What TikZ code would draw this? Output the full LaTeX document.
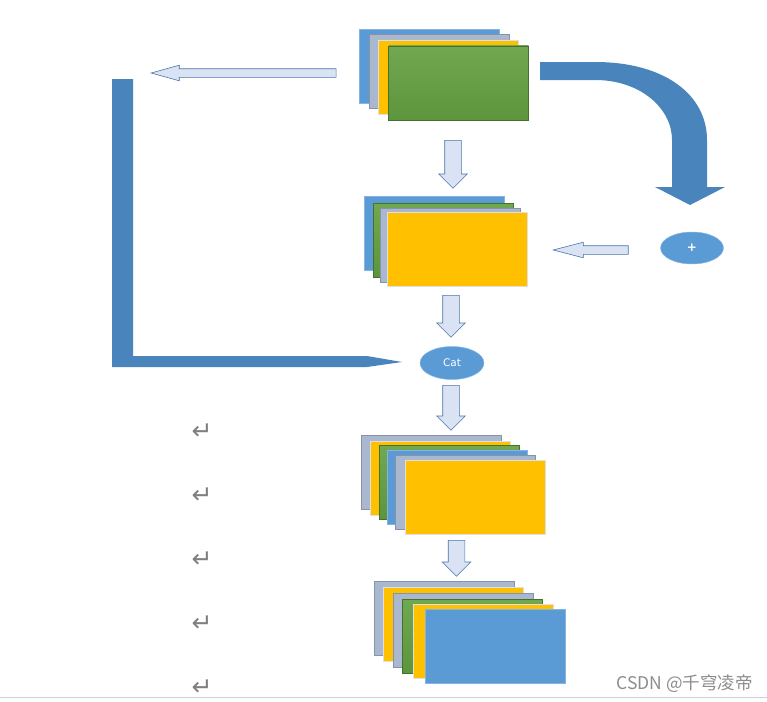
\documentclass[tikz,border=0pt]{standalone}
\usepackage{fontspec}
\usepackage{xcolor}
\usepackage{tikz}
\usetikzlibrary{shapes.geometric,shapes.arrows}
\newfontfamily\symfont{DejaVu Sans}
\newfontfamily\cjkfont{Noto Sans CJK SC}
\definecolor{cblue}{HTML}{5B9BD5}
\definecolor{cgray}{HTML}{A9B8CF}
\definecolor{cyellow}{HTML}{FFC000}
\definecolor{cgreen}{HTML}{64A041}
\definecolor{bigarrow}{HTML}{4A84BD}
\definecolor{smallfill}{HTML}{DAE3F3}
\definecolor{smalldraw}{HTML}{4A76AC}

\begin{document}
\begin{tikzpicture}[x=1pt, y=-1pt,
  card/.style={line width=0.5pt, inner sep=0pt, minimum width=140pt, minimum height=74pt},
  bluecard/.style={card, fill=cblue, draw=cblue!75!white},
  graycard/.style={card, fill=cgray, draw=cgray!80!black},
  yellowcard/.style={card, fill=cyellow, draw=black!12},
  greencard/.style={card, top color=cgreen!92!white, bottom color=cgreen!93!black, draw=cgreen!70!black},
  downarr/.style={single arrow, rotate=-90, anchor=tail, fill=smallfill, draw=smalldraw, line width=0.6pt,
    inner xsep=0pt, inner ysep=8pt, single arrow head extend=6pt, single arrow tip angle=90,
    single arrow head indent=0pt},
  leftarr/.style={single arrow, rotate=180, anchor=tip, fill=smallfill, draw=smalldraw, line width=0.6pt,
    inner xsep=0pt, inner ysep=4pt, single arrow head extend=3.5pt, single arrow tip angle=31,
    single arrow head indent=0pt},
  op/.style={ellipse, fill=cblue, draw=cblue!70!white, line width=0.5pt, inner sep=0pt,
    text=white, font=\symfont\fontsize{10.5}{11}\selectfont},
  ret/.style={inner sep=0pt, text=black!50, font=\symfont\fontsize{25}{25}\selectfont}]
  \useasboundingbox (0,0) rectangle (767,701);

  % first stack
  \node[bluecard]   (s1a) at (429,66) {};
  \node[graycard]   (s1b) at (439,71) {};
  \node[yellowcard] (s1c) at (448,77) {};
  \node[greencard]  (s1d) at (458.5,83) {};

  % second stack
  \node[bluecard]   (s2a) at (434,233) {};
  \node[greencard]  (s2b) at (443.5,240) {};
  \node[graycard]   (s2c) at (450,245) {};
  \node[yellowcard] (s2d) at (457,249) {};

  % third stack
  \node[graycard]   (s3a) at (431.5,472.5) {};
  \node[yellowcard] (s3b) at (440.5,478) {};
  \node[greencard]  (s3c) at (449.5,482.5) {};
  \node[bluecard]   (s3d) at (457,487) {};
  \node[graycard]   (s3e) at (465.5,492) {};
  \node[yellowcard] (s3f) at (475,497) {};

  % fourth stack
  \node[graycard]   (s4a) at (444,618.5) {};
  \node[yellowcard] (s4b) at (453,624.5) {};
  \node[graycard]   (s4c) at (463,630.5) {};
  \node[greencard]  (s4d) at (472.5,636.5) {};
  \node[yellowcard] (s4e) at (483.5,641) {};
  \node[bluecard]   (s4f) at (495,646) {};

  % operators
  \node[op, minimum width=63pt, minimum height=32pt, font=\symfont\bfseries\fontsize{12}{12}\selectfont] (plus) at (692,248) {+};
  \node[op, minimum width=64pt, minimum height=33pt] (cat) at (452,363) {Cat};

  % small block arrows
  \node[downarr, minimum height=48pt] (d1) at (453,140) {};
  \node[downarr, minimum height=42pt] (d2) at (451,295) {};
  \node[downarr, minimum height=45pt] (d3) at (451,385) {};
  \node[downarr, minimum height=36pt] (d4) at (456.5,540) {};
  \node[leftarr, minimum height=185pt] (l1) at (150,73) {};
  \node[leftarr, minimum height=75pt, single arrow tip angle=29] (l2) at (552,250) {};

  % big arrows
  \fill[bigarrow] (540,62) -- (595,62) .. controls (665,62) and (707,95) .. (707,140)
    -- (707,187) -- (725,187) -- (690,205) -- (655,187) -- (672,187) -- (672,140)
    .. controls (672,108) and (640,80) .. (595,80) -- (540,80) -- cycle;
  \fill[bigarrow] (112,79) -- (133,79) -- (133,356) -- (367,356) -- (402,362)
    -- (367,367) -- (112,367) -- cycle;

  % paragraph marks
  \node[ret] (r1) at (202,432) {↵};
  \node[ret] (r2) at (202,496) {↵};
  \node[ret] (r3) at (202,560) {↵};
  \node[ret] (r4) at (202,624) {↵};
  \node[ret] (r5) at (202,688) {↵};

  \draw[black!18, line width=1pt] (0,697) -- (767,697);
  \node[anchor=east, inner sep=0pt, text=black!45, font=\cjkfont\fontsize{17.5}{17.5}\selectfont]
    (mark) at (753,684) {CSDN @千穹凌帝};
\end{tikzpicture}
\end{document}
